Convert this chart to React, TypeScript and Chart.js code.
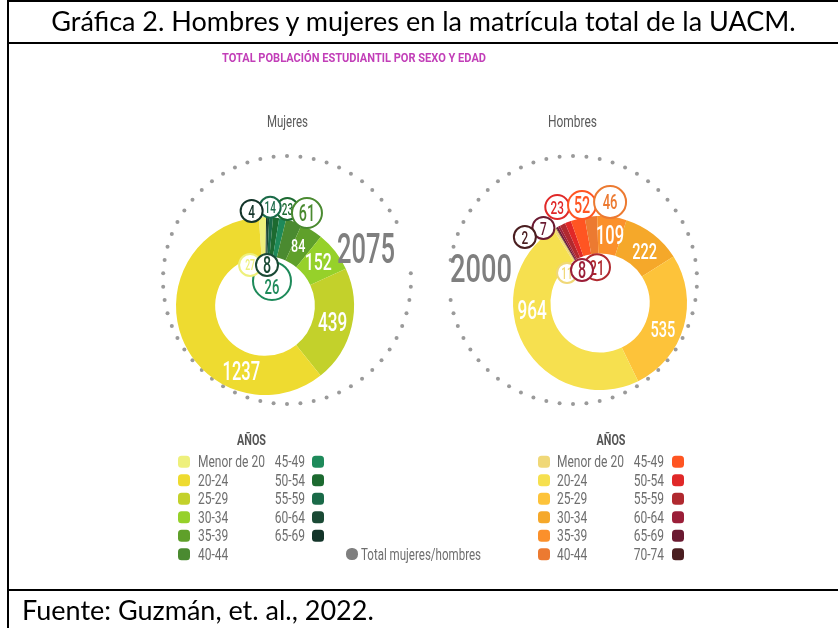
import React, { useEffect, useRef } from "react";
import { Chart, registerables } from "chart.js";
Chart.register(...registerables);

// ---------------- data ----------------
const womenAgeGroups = ["Menor de 20", "20-24", "25-29", "30-34", "35-39", "40-44", "45-49", "50-54", "55-59", "60-64", "65-69"];
const womenCounts = [27, 1237, 439, 152, 84, 61, 26, 23, 14, 8, 4];
const womenColors = ["#eef07c", "#eedb30", "#c3d12b", "#96d12a", "#5fa02a", "#4a8a30", "#1e8a5a", "#1c6a30", "#1a6a48", "#1a4a35", "#133429"];

const menAgeGroups = ["Menor de 20", "20-24", "25-29", "30-34", "35-39", "40-44", "45-49", "50-54", "55-59", "60-64", "65-69", "70-74"];
const menCounts = [11, 964, 535, 222, 109, 46, 52, 23, 21, 8, 7, 2];
const menColors = ["#f0d878", "#f6e04f", "#fdc33a", "#f5a82a", "#fb902b", "#ec7a31", "#ff5522", "#e02828", "#b0292f", "#9b1e38", "#6a1a31", "#4a1e20"];

const panelNames = ["Mujeres", "Hombres"];
const chartTitle = "TOTAL POBLACIÓN ESTUDIANTIL POR SEXO Y EDAD";
const legendTitle = "AÑOS";
const totalLegendLabel = "Total mujeres/hombres";
const figureTitle = "Gráfica 2. Hombres y mujeres en la matrícula total de la UACM.";
const sourceNote = "Fuente: Guzmán, et. al., 2022.";

// ---------------- layout / style ----------------
const W = 838;
const H = 628;
const FONT = "Roboto, 'DejaVu Sans', sans-serif";
const GREY = "#7f7f7f";
const LEGEND_TEXT = "#6e6e6e";

type Callout = { i: number; a: number; d: number; r: number; s: number; dy?: number };
type Inside = { i: number; shift: number; s: number };
type Layout = {
  cx: number; cy: number; R: number; cutout: string; rotation: number;
  ringCx: number; ringCy: number; ringR: number; gapFrom: number; gapTo: number;
  totalX: number; totalY: number; totalW: number; totalSize: number;
  headerX: number; headerY: number; headerW: number;
  sw1: number; text1: number; text2Right: number; sw2: number; legTitleX: number;
  callouts: Callout[]; inside: Inside[]; shared: boolean;
};

const womenLayout: Layout = {
  cx: 265, cy: 306, R: 89, cutout: "56%", rotation: -4,
  ringCx: 287, ringCy: 280, ringR: 124, gapFrom: 63, gapTo: 85,
  totalX: 366, totalY: 248, totalW: 58, totalSize: 42,
  headerX: 287.5, headerY: 121.5, headerW: 41,
  sw1: 178, text1: 198, text2Right: 305, sw2: 312, legTitleX: 251.5,
  callouts: [
    { i: 7, a: 13, d: 99.5, r: 11, s: 16 },
    { i: 8, a: 3, d: 99, r: 10.5, s: 16 },
    { i: 10, a: -8, d: 96, r: 11, s: 19 },
    { i: 5, a: 24.3, d: 102, r: 15, s: 23 },
    { i: 6, a: 15.6, d: 26, r: 19, s: 21, dy: 6 },
    { i: 0, a: -20, d: 43.6, r: 11, s: 14 },
    { i: 9, a: 2.8, d: 41, r: 11, s: 23 },
  ],
  inside: [
    { i: 1, shift: -48.7, s: 25 },
    { i: 2, shift: 0, s: 26 },
    { i: 3, shift: -2, s: 24 },
    { i: 4, shift: -3, s: 19 },
  ],
  shared: true,
};

const menLayout: Layout = {
  cx: 600, cy: 303, R: 87, cutout: "57%", rotation: -32.5,
  ringCx: 573, ringCy: 280, ringR: 124, gapFrom: -97, gapTo: -83,
  totalX: 481, totalY: 268, totalW: 62, totalSize: 38,
  headerX: 572.5, headerY: 121.5, headerW: 49,
  sw1: 538, text1: 557, text2Right: 664, sw2: 672, legTitleX: 611,
  callouts: [
    { i: 10, a: -37, d: 94, r: 11, s: 19 },
    { i: 11, a: -48.7, d: 100, r: 11, s: 19 },
    { i: 7, a: -24, d: 105, r: 12, s: 19 },
    { i: 6, a: -10.4, d: 99.6, r: 14, s: 23 },
    { i: 5, a: 5.7, d: 101.5, r: 16, s: 21 },
    { i: 0, a: -47.7, d: 44.6, r: 10, s: 16 },
    { i: 8, a: -4.8, d: 36, r: 13, s: 21 },
    { i: 9, a: -28.6, d: 37.6, r: 11, s: 23 },
  ],
  inside: [
    { i: 1, shift: 23.3, s: 26 },
    { i: 2, shift: 7, s: 22 },
    { i: 3, shift: 3, s: 22 },
    { i: 4, shift: 0.5, s: 25 },
  ],
  shared: false,
};

// ---------------- helpers ----------------
function drawText(
  ctx: CanvasRenderingContext2D, text: string, x: number, y: number,
  o: { size: number; color: string; weight?: string; align?: CanvasTextAlign; scale?: number; width?: number }
) {
  ctx.save();
  ctx.font = `${o.weight || "normal"} ${o.size}px ${FONT}`;
  const m = ctx.measureText(text).width;
  const sx = o.width ? o.width / m : (o.scale ?? 0.68);
  ctx.translate(x, y);
  ctx.scale(sx, 1);
  ctx.fillStyle = o.color;
  ctx.textAlign = o.align || "center";
  ctx.textBaseline = "alphabetic";
  ctx.fillText(text, 0, o.size * 0.711 / 2);
  ctx.restore();
}

function roundRect(ctx: CanvasRenderingContext2D, x: number, y: number, w: number, h: number, r: number) {
  ctx.beginPath();
  ctx.moveTo(x + r, y);
  ctx.arcTo(x + w, y, x + w, y + h, r);
  ctx.arcTo(x + w, y + h, x, y + h, r);
  ctx.arcTo(x, y + h, x, y, r);
  ctx.arcTo(x, y, x + w, y, r);
  ctx.closePath();
}

function makePlugin(name: string, labels: string[], values: number[], colors: string[], order: number[], L: Layout) {
  const total = values.reduce((a, b) => a + b, 0);
  return {
    id: "decor" + name,
    beforeDatasetsDraw(chart: any) {
      const ctx: CanvasRenderingContext2D = chart.ctx;
      ctx.save();
      ctx.fillStyle = "#9a9a9a";
      const n = 58;
      for (let k = 0; k < n; k++) {
        const t = (360 / n) * k;
        const tt = t > 180 ? t - 360 : t;
        if (tt > L.gapFrom && tt < L.gapTo) continue;
        const rad = (t * Math.PI) / 180;
        ctx.beginPath();
        ctx.arc(L.ringCx + L.ringR * Math.sin(rad), L.ringCy - L.ringR * Math.cos(rad), 2, 0, Math.PI * 2);
        ctx.fill();
      }
      ctx.restore();
    },
    afterDatasetsDraw(chart: any) {
      const ctx: CanvasRenderingContext2D = chart.ctx;
      const arcs: any[] = chart.getDatasetMeta(0).data;
      const pos = (i: number) => arcs[order.indexOf(i)];
      const cx = arcs[0].x;
      const cy = arcs[0].y;

      // labels inside the ring
      for (const it of L.inside) {
        const a = pos(it.i);
        const mid = (a.startAngle + a.endAngle) / 2 + (it.shift * Math.PI) / 180;
        const r = (a.innerRadius + a.outerRadius) / 2;
        drawText(ctx, String(values[it.i]), cx + Math.cos(mid) * r, cy + Math.sin(mid) * r, {
          size: it.s, color: "#ffffff", weight: "500", scale: 0.66,
        });
      }
      // callout bubbles for small groups
      for (const c of L.callouts) {
        const rad = (c.a * Math.PI) / 180;
        const x = cx + c.d * Math.sin(rad);
        const y = cy - c.d * Math.cos(rad);
        ctx.save();
        ctx.beginPath();
        ctx.arc(x, y, c.r, 0, Math.PI * 2);
        ctx.fillStyle = "#ffffff";
        ctx.fill();
        ctx.lineWidth = 2;
        ctx.strokeStyle = colors[c.i];
        ctx.stroke();
        ctx.restore();
        drawText(ctx, String(values[c.i]), x, y + (c.dy || 0), { size: c.s, color: colors[c.i], weight: "500", scale: 0.62 });
      }
      // total
      drawText(ctx, String(total), L.totalX, L.totalY, { size: L.totalSize, color: GREY, weight: "500", width: L.totalW });
      // header
      drawText(ctx, name, L.headerX, L.headerY, { size: 16, color: "#5a5a5a", width: L.headerW });
      // legend
      drawText(ctx, legendTitle, L.legTitleX, 440, { size: 15, color: "#555555", weight: "bold", scale: 0.72 });
      const rowY0 = 461.8;
      const rowDy = 18.5;
      labels.forEach((lab, i) => {
        const col = i < 6 ? 0 : 1;
        const row = col === 0 ? i : i - 6;
        const y = rowY0 + row * rowDy;
        ctx.fillStyle = colors[i];
        roundRect(ctx, col === 0 ? L.sw1 : L.sw2, y - 6, 12, 12, 3.5);
        ctx.fill();
        drawText(ctx, lab, col === 0 ? L.text1 : L.text2Right, y, {
          size: 16, color: LEGEND_TEXT, align: col === 0 ? "left" : "right", scale: 0.75,
        });
      });
      if (L.shared) {
        drawText(ctx, chartTitle, 354, 57.5, { size: 13, color: "#c23fb8", weight: "bold", width: 264 });
        ctx.fillStyle = GREY;
        roundRect(ctx, 346, 548, 12, 12, 5.5);
        ctx.fill();
        drawText(ctx, totalLegendLabel, 361, 554.5, { size: 16, color: LEGEND_TEXT, align: "left", width: 120 });
      }
    },
  };
}

function Donut(props: { name: string; labels: string[]; values: number[]; colors: string[]; layout: Layout }) {
  const ref = useRef<HTMLCanvasElement | null>(null);
  useEffect(() => {
    const { name, labels, values, colors, layout: L } = props;
    // clockwise drawing order: youngest group, then oldest down to 20-24
    const order = [0];
    for (let i = labels.length - 1; i >= 1; i--) order.push(i);
    const chart = new Chart(ref.current as HTMLCanvasElement, {
      type: "doughnut",
      data: {
        labels: order.map((i) => labels[i]),
        datasets: [
          {
            data: order.map((i) => values[i]),
            backgroundColor: order.map((i) => colors[i]),
            borderWidth: 0,
          },
        ],
      },
      options: {
        responsive: false,
        animation: false,
        events: [],
        rotation: L.rotation,
        cutout: L.cutout,
        layout: {
          padding: { left: L.cx - L.R, right: W - L.cx - L.R, top: L.cy - L.R, bottom: H - L.cy - L.R },
        },
        plugins: { legend: { display: false }, tooltip: { enabled: false }, title: { display: false } },
      },
      plugins: [makePlugin(name, labels, values, colors, order, L)],
    } as any);
    return () => chart.destroy();
  }, []);
  return <canvas ref={ref} width={W} height={H} style={{ position: "absolute", left: 0, top: 0 }} />;
}

export default function App() {
  const line = (s: React.CSSProperties) => <div style={{ position: "absolute", background: "#000", ...s }} />;
  return (
    <div style={{ position: "absolute", left: 0, top: 0, width: W, height: H, background: "#fff", overflow: "hidden" }}>
      <Donut name={panelNames[0]} labels={womenAgeGroups} values={womenCounts} colors={womenColors} layout={womenLayout} />
      <Donut name={panelNames[1]} labels={menAgeGroups} values={menCounts} colors={menColors} layout={menLayout} />
      {line({ left: 7, top: 0, width: W - 7, height: 2 })}
      {line({ left: 7, top: 0, width: 2, height: H })}
      {line({ left: 7, top: 42, width: W - 7, height: 2 })}
      {line({ left: 7, top: 589, width: W - 7, height: 2 })}
      <div
        style={{
          position: "absolute", left: 9, top: 2, width: W - 9, height: 38, lineHeight: "38px",
          textAlign: "center", fontFamily: "Lato, 'Open Sans', sans-serif", fontSize: 27, color: "#000", whiteSpace: "nowrap",
        }}
      >
        {figureTitle}
      </div>
      <div
        style={{
          position: "absolute", left: 22, top: 593, height: 34, lineHeight: "34px",
          fontFamily: "Lato, 'Open Sans', sans-serif", fontSize: 27, color: "#000", whiteSpace: "nowrap",
        }}
      >
        {sourceNote}
      </div>
    </div>
  );
}
